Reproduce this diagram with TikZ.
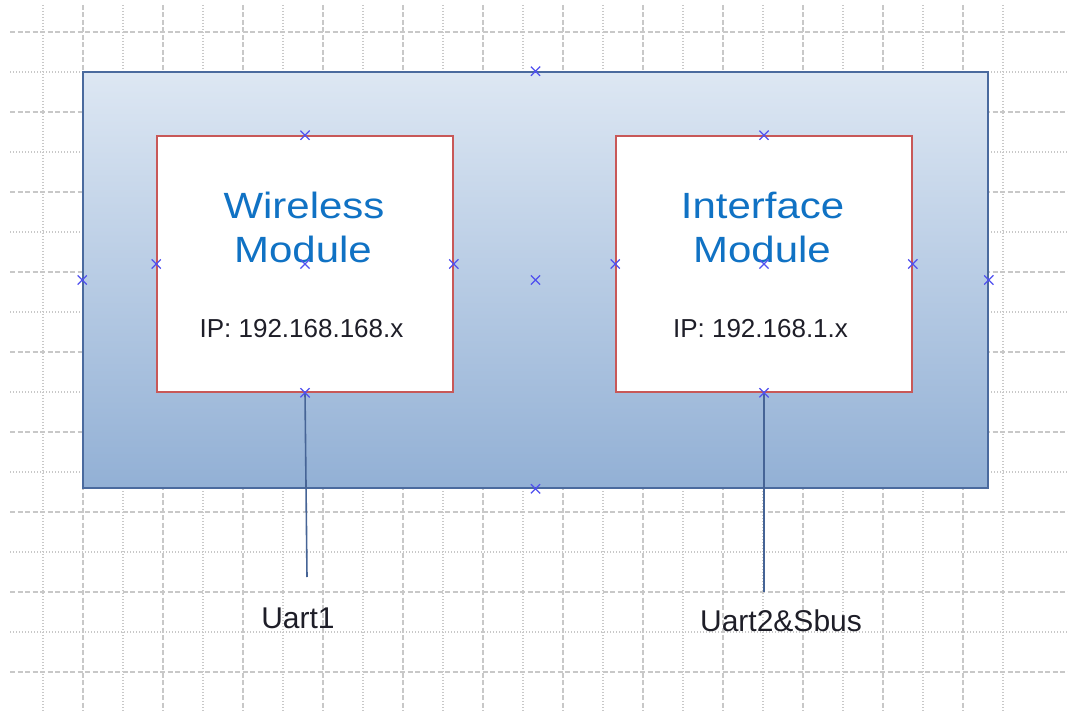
\documentclass[tikz,border=0pt]{standalone}
\usepackage{fontspec}
\setmainfont{Liberation Sans}
\usetikzlibrary{shapes.misc}
\definecolor{gridgray}{RGB}{200,200,200}
\definecolor{outerline}{RGB}{74,106,158}
\definecolor{outertop}{RGB}{221,231,243}
\definecolor{outerbot}{RGB}{146,176,213}
\definecolor{innerline}{RGB}{200,88,88}
\definecolor{titleblue}{RGB}{16,114,196}
\definecolor{markblue}{RGB}{80,80,240}
\definecolor{wireblue}{RGB}{70,100,150}
\definecolor{textdark}{RGB}{30,30,40}
\tikzset{
  gridA/.style={gridgray, line width=1.2pt, dash pattern=on 5pt off 2.5pt},
  gridB/.style={gridgray, line width=1.2pt, dash pattern=on 1.2pt off 1.8pt},
  outerbox/.style={draw=outerline, line width=1.6pt, top color=outertop, bottom color=outerbot, rectangle, inner sep=0pt},
  modbox/.style={draw=innerline, line width=1.6pt, fill=white, rectangle, inner sep=0pt, minimum width=296pt, minimum height=256pt},
  crossmark/.style={cross out, draw=markblue, line width=1.2pt, minimum size=8pt, inner sep=0pt},
  titletext/.style={text=titleblue, anchor=base, inner sep=0pt, font=\fontsize{36.5}{36.5}\selectfont},
  iptext/.style={text=textdark, anchor=base, inner sep=0pt, font=\fontsize{26}{26}\selectfont},
  uarttext/.style={text=textdark, anchor=base, inner sep=0pt, font=\fontsize{30}{30}\selectfont},
  wire/.style={draw=wireblue, line width=1.6pt}
}
\begin{document}
\begin{tikzpicture}[x=1pt,y=-1pt]
\useasboundingbox (0,0) rectangle (1068,711);
\fill[white] (0,0) rectangle (1068,711);
% grid
\foreach \x in {43,123,...,1043} \draw[gridB] (\x,5) -- (\x,711);
\foreach \x in {83,163,...,1003} \draw[gridA] (\x,5) -- (\x,711);
\foreach \y in {72,152,...,632} \draw[gridB] (10,\y) -- (1068,\y);
\foreach \y in {32,112,...,672} \draw[gridA] (10,\y) -- (1068,\y);
% outer container
\node[outerbox, minimum width=905pt, minimum height=416pt] (outer) at (535.5,280) {};
% modules
\node[modbox] (wm) at (305,264) {};
\node[modbox] (im) at (764,264) {};
% texts
\node[titletext] (wt1) at (304,219) {\scalebox{1.15}[1]{Wireless}};
\node[titletext] (wt2) at (303,263) {\scalebox{1.15}[1]{Module}};
\node[iptext] (wip) at (301.5,337) {IP: 192.168.168.x};
\node[titletext] (it1) at (762.5,219) {\scalebox{1.15}[1]{Interface}};
\node[titletext] (it2) at (762,263) {\scalebox{1.15}[1]{Module}};
\node[iptext] (iip) at (760.5,337) {IP: 192.168.1.x};
% wires
\coordinate (w1end) at (307,577);
\coordinate (w2end) at (764,592);
\draw[wire] (wm.south) -- (w1end);
\draw[wire] (im.south) -- (w2end);
\node[uarttext] (u1) at (298,628) {Uart1};
\node[uarttext] (u2) at (781,631) {Uart2\&Sbus};
% connection markers
\node[crossmark] (om1) at (outer.north) {};
\node[crossmark] (om2) at (outer.west) {};
\node[crossmark] (om3) at (outer.east) {};
\node[crossmark] (om4) at (outer.south) {};
\node[crossmark] (om5) at (outer.center) {};
\node[crossmark] (wm1) at (wm.north) {};
\node[crossmark] (wm2) at (wm.west) {};
\node[crossmark] (wm3) at (wm.east) {};
\node[crossmark] (wm4) at (wm.south) {};
\node[crossmark] (wm5) at (wm.center) {};
\node[crossmark] (im1) at (im.north) {};
\node[crossmark] (im2) at (im.west) {};
\node[crossmark] (im3) at (im.east) {};
\node[crossmark] (im4) at (im.south) {};
\node[crossmark] (im5) at (im.center) {};
\end{tikzpicture}
\end{document}
